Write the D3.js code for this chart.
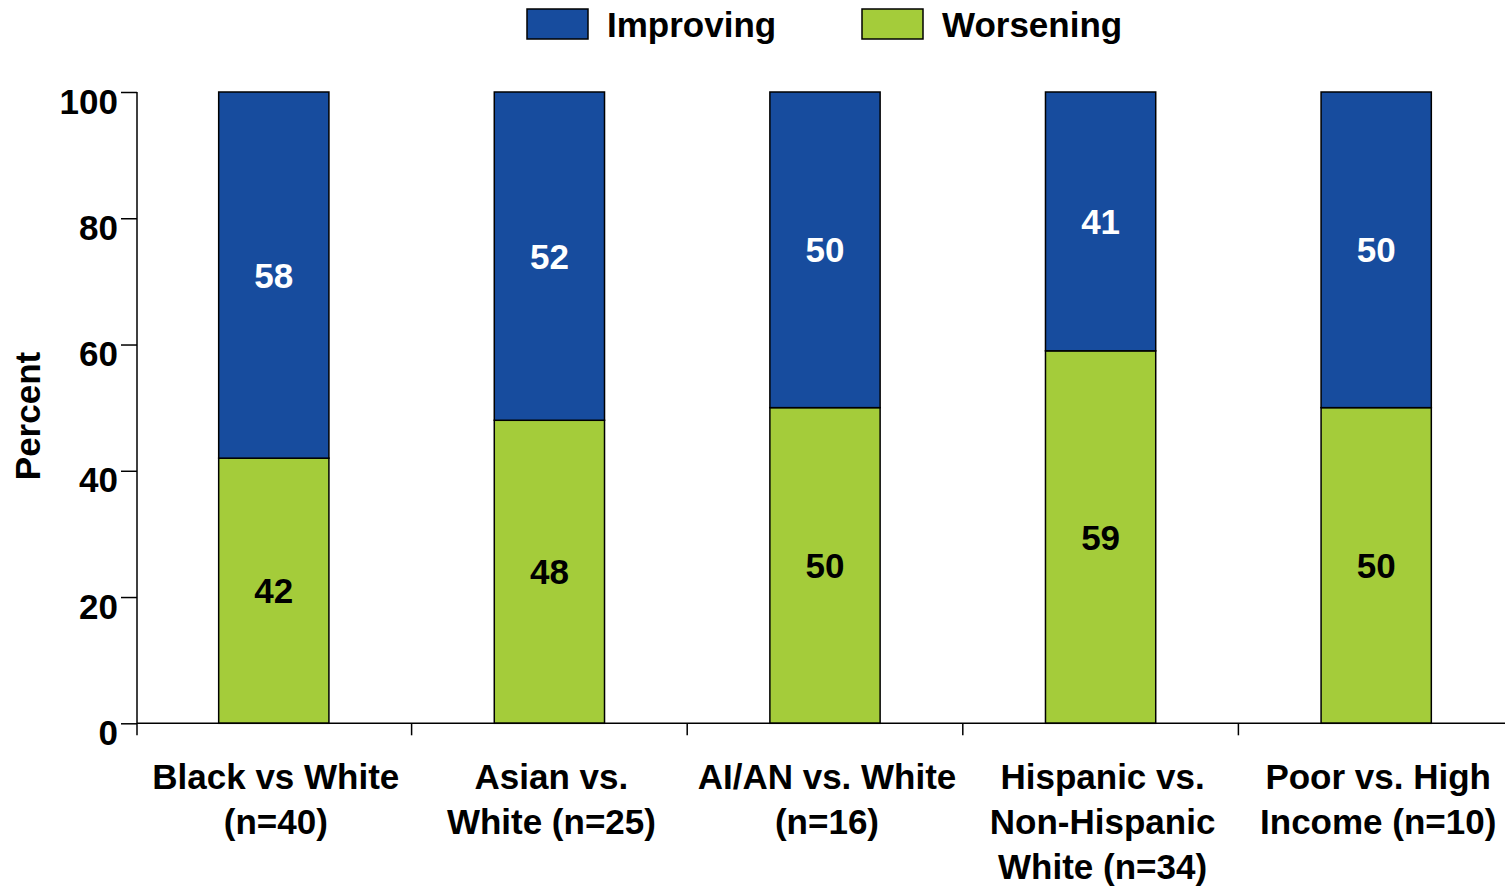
<!DOCTYPE html>
<html>
<head>
<meta charset="utf-8">
<script src="https://cdn.jsdelivr.net/npm/d3@7"></script>
<style>
html,body{margin:0;padding:0;background:#fff;}
svg{display:block;font-family:"Liberation Sans",Arial,Helvetica,sans-serif;font-weight:bold;}
</style>
</head>
<body>
<svg id="chart" width="1505" height="886"></svg>
<script>
const categories = [
  ["Black vs White", "(n=40)"],
  ["Asian vs.", "White (n=25)"],
  ["AI/AN vs. White", "(n=16)"],
  ["Hispanic vs.", "Non-Hispanic", "White (n=34)"],
  ["Poor vs. High", "Income (n=10)"]
];
const worsening = [42, 48, 50, 59, 50];
const improving = [58, 52, 50, 41, 50];
const yTicks = [0, 20, 40, 60, 80, 100];
const seriesNames = ["Improving", "Worsening"];
const colors = {Improving: "#174C9E", Worsening: "#A4CC3A"};

const svg = d3.select("#chart");
const W = 1505;
const axisX = 137, yTop = 92, yBot = 723.3;

const keys = categories.map(c => c.join(" "));
const x = d3.scaleBand().domain(keys).range([136, 1514]).paddingInner(0.6).paddingOuter(0.3);
const y = d3.scaleLinear().domain([0, 100]).range([yBot, yTop]);

const fs = 35;

// Y axis
const yAxis = svg.append("g").attr("transform", `translate(${axisX},0)`)
  .call(d3.axisLeft(y).tickValues(yTicks).tickSize(16).tickPadding(3));
yAxis.select(".domain").remove();
yAxis.selectAll(".tick line").attr("stroke", "#000").attr("stroke-width", 1.5);
yAxis.selectAll(".tick text").attr("font-size", fs).attr("font-weight", "bold")
  .attr("fill", "#000").attr("font-family", "Liberation Sans, Arial, sans-serif")
  .attr("dy", "0.32em").attr("transform", "translate(0,10)");
svg.append("line").attr("x1", axisX).attr("x2", axisX).attr("y1", yTop).attr("y2", yBot + 12)
  .attr("stroke", "#000").attr("stroke-width", 1.5);

// Stacked bars
const data = keys.map((k, i) => ({key: k, Worsening: worsening[i], Improving: improving[i]}));
const stack = d3.stack().keys(["Worsening", "Improving"]);
const stacked = stack(data);

const layers = svg.append("g").selectAll("g").data(stacked).join("g")
  .attr("fill", d => colors[d.key]);
layers.selectAll("rect").data(d => d).join("rect")
  .attr("x", d => x(d.data.key))
  .attr("y", d => y(d[1]))
  .attr("width", x.bandwidth())
  .attr("height", d => y(d[0]) - y(d[1]))
  .attr("stroke", "#000").attr("stroke-width", 1.5);

// Value labels
stacked.forEach(layer => {
  svg.append("g").selectAll("text").data(layer).join("text")
    .attr("x", d => x(d.data.key) + x.bandwidth() / 2)
    .attr("y", d => (y(d[0]) + y(d[1])) / 2)
    .attr("dy", "0.36em")
    .attr("text-anchor", "middle")
    .attr("font-size", fs)
    .attr("fill", layer.key === "Improving" ? "#fff" : "#000")
    .text(d => d.data[layer.key]);
});

// X axis
svg.append("line").attr("x1", axisX).attr("x2", W).attr("y1", yBot).attr("y2", yBot)
  .attr("stroke", "#000").attr("stroke-width", 1.5);
const step = x.step();
svg.append("g").selectAll("line").data(keys.slice(1)).join("line")
  .attr("x1", d => x(d) - step * 0.3)
  .attr("x2", d => x(d) - step * 0.3)
  .attr("y1", yBot).attr("y2", yBot + 12)
  .attr("stroke", "#000").attr("stroke-width", 1.5);

const labels = svg.append("g").selectAll("text").data(categories).join("text")
  .attr("text-anchor", "middle")
  .attr("font-size", fs)
  .attr("fill", "#000");
labels.each(function(lines, i) {
  const cx = x(keys[i]) + x.bandwidth() / 2 + 2;
  d3.select(this).selectAll("tspan").data(lines).join("tspan")
    .attr("x", cx)
    .attr("y", (d, j) => 789 + j * 45)
    .text(d => d);
});

// Y axis title
svg.append("text")
  .attr("transform", "translate(40,416) rotate(-90)")
  .attr("text-anchor", "middle")
  .attr("font-size", fs)
  .attr("fill", "#000")
  .text("Percent");

// Legend
const legendX = [527, 862];
const legend = svg.append("g").selectAll("g").data(seriesNames).join("g")
  .attr("transform", (d, i) => `translate(${legendX[i]},9)`);
legend.append("rect").attr("width", 61).attr("height", 30)
  .attr("fill", d => colors[d]).attr("stroke", "#000").attr("stroke-width", 1.5);
legend.append("text").attr("x", 80).attr("y", 28).attr("font-size", fs)
  .attr("fill", "#000").text(d => d);
</script>
</body>
</html>
